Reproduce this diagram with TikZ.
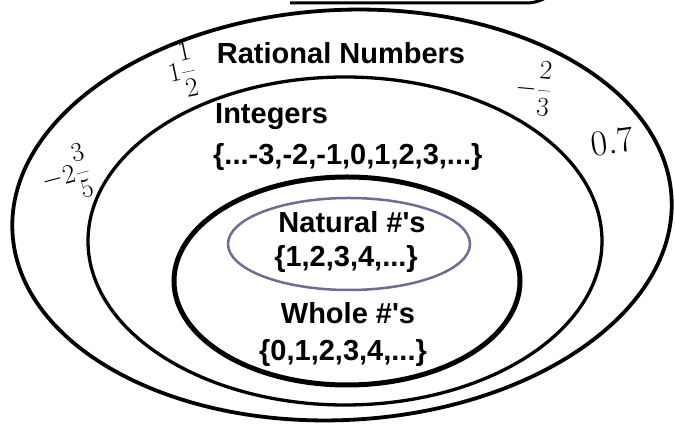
\documentclass[tikz,border=0pt]{standalone}
\usepackage{fix-cm}
\usepackage{fontspec}
\setmainfont{Liberation Sans}
\usepackage{xcolor}
\usetikzlibrary{math}
\definecolor{mypurple}{RGB}{118, 104, 150}

\tikzset{
  setname/.style={font=\fontsize{29}{34}\selectfont\bfseries, inner sep=0pt},
  hand/.style={font=\fontsize{27}{32}\selectfont, inner sep=0pt},
}

\begin{document}
\begin{tikzpicture}[x=1pt,y=1pt]
\useasboundingbox (0,0) rectangle (675,425);
\tikzmath{
\t=3;
}

\coordinate (Q) at (342,210);
\coordinate (Z) at (345,184);
\coordinate (W) at (347,144);
\coordinate (N) at (349,181);

% box cut off at the top
\draw[line width=3,rounded corners=10] (290,422) -- (538,422) -- (553,432);

\draw[line width=3.8] (Q) ellipse [x radius=330pt, y radius=205pt, rotate=\t];
\draw[line width=3.3] (Z) ellipse [x radius=257pt, y radius=164pt];
\draw[line width=5] (W) ellipse [x radius=173pt, y radius=104pt];
\draw[color=mypurple,line width=2.5] (N) ellipse [x radius=121pt, y radius=46pt];

\node[setname] (rat) at (341,372) {Rational Numbers};
\node[setname,anchor=west] (int) at (215,308) {Integers};
\node[setname,anchor=west] (intset) at (213,268) {\{...-3,-2,-1,0,1,2,3,...\}};
\node[setname] (nat) at (352,203) {Natural \#\textquotesingle s};
\node[setname] (natset) at (346,166) {\{1,2,3,4,...\}};
\node[setname] (who) at (348,112) {Whole \#\textquotesingle s};
\node[setname] (whoset) at (343,72) {\{0,1,2,3,4,...\}};

\node[hand,rotate=12] (a) at (182,354) {$\displaystyle 1\frac{1}{2}$};
\node[hand,rotate=-5] (b) at (534,337) {$\displaystyle -\frac{2}{3}$};
\node[hand,rotate=15] (c) at (66,250) {$\displaystyle -2\frac{3}{5}$};
\node[hand,font=\fontsize{36}{40}\selectfont,rotate=8] (d) at (612,283) {$0.7$};

\end{tikzpicture}
\end{document}
